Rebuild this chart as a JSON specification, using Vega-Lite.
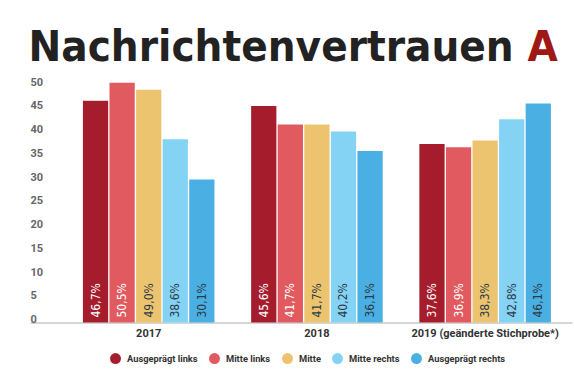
{
  "$schema": "https://vega.github.io/schema/vega-lite/v6.json",
  "width": 542,
  "height": 237.5,
  "autosize": "none",
  "padding": {"left": 30, "top": 85, "right": 2, "bottom": 47.5},
  "background": "white",
  "data": {
    "values": [
      {"jahr": "2017", "gruppe": "Ausgeprägt links", "wert": 46.7},
      {"jahr": "2017", "gruppe": "Mitte links", "wert": 50.5},
      {"jahr": "2017", "gruppe": "Mitte", "wert": 49.0},
      {"jahr": "2017", "gruppe": "Mitte rechts", "wert": 38.6},
      {"jahr": "2017", "gruppe": "Ausgeprägt rechts", "wert": 30.1},
      {"jahr": "2018", "gruppe": "Ausgeprägt links", "wert": 45.6},
      {"jahr": "2018", "gruppe": "Mitte links", "wert": 41.7},
      {"jahr": "2018", "gruppe": "Mitte", "wert": 41.7},
      {"jahr": "2018", "gruppe": "Mitte rechts", "wert": 40.2},
      {"jahr": "2018", "gruppe": "Ausgeprägt rechts", "wert": 36.1},
      {"jahr": "2019 (geänderte Stichprobe*)", "gruppe": "Ausgeprägt links", "wert": 37.6},
      {"jahr": "2019 (geänderte Stichprobe*)", "gruppe": "Mitte links", "wert": 36.9},
      {"jahr": "2019 (geänderte Stichprobe*)", "gruppe": "Mitte", "wert": 38.3},
      {"jahr": "2019 (geänderte Stichprobe*)", "gruppe": "Mitte rechts", "wert": 42.8},
      {"jahr": "2019 (geänderte Stichprobe*)", "gruppe": "Ausgeprägt rechts", "wert": 46.1}
    ]
  },
  "transform": [
    {"calculate": "replace(format(datum.wert, '.1f'), '.', ',') + '%'", "as": "label"}
  ],
  "encoding": {
    "x": {
      "field": "jahr",
      "type": "nominal",
      "sort": null,
      "scale": {"paddingInner": 0.218, "paddingOuter": 0.22, "align": 0.715},
      "axis": {
        "title": "Nachrichtenvertrauen",
        "titleAngle": 0,
        "titleX": -2,
        "titleY": -262.5,
        "titleAlign": "left",
        "titleBaseline": "alphabetic",
        "titleFont": "DejaVu Sans Condensed, DejaVu Sans",
        "titleFontSize": 43.5,
        "titleFontWeight": "bold",
        "titleColor": "#222222",
        "labelAngle": 0,
        "ticks": false,
        "domainColor": "#c8c8c8",
        "domainWidth": 1.5,
        "labelFont": "Roboto",
        "labelFontSize": 11,
        "labelFontWeight": "bold",
        "labelColor": "#333333",
        "labelPadding": 5
      }
    },
    "xOffset": {
      "field": "gruppe",
      "type": "nominal",
      "sort": ["Ausgeprägt links", "Mitte links", "Mitte", "Mitte rechts", "Ausgeprägt rechts"],
      "scale": {"paddingInner": 0.05}
    },
    "y": {
      "field": "wert",
      "type": "quantitative",
      "scale": {"domain": [0, 50], "nice": false},
      "axis": {
        "title": "A",
        "titleAngle": 0,
        "titleX": 497,
        "titleY": -25,
        "titleAlign": "left",
        "titleBaseline": "alphabetic",
        "titleFont": "DejaVu Sans Condensed, DejaVu Sans",
        "titleFontSize": 43.5,
        "titleFontWeight": "bold",
        "titleColor": "#a01816",
        "values": [0, 5, 10, 15, 20, 25, 30, 35, 40, 45, 50],
        "domain": false,
        "ticks": false,
        "grid": false,
        "labelAlign": "left",
        "labelBaseline": "alphabetic",
        "labelPadding": 0,
        "labelFont": "Roboto",
        "labelFontSize": 11,
        "labelFontWeight": "bold",
        "labelColor": "#666666"
      }
    }
  },
  "layer": [
    {
      "mark": {"type": "bar"},
      "encoding": {
        "color": {
          "field": "gruppe",
          "type": "nominal",
          "sort": ["Ausgeprägt links", "Mitte links", "Mitte", "Mitte rechts", "Ausgeprägt rechts"],
          "scale": {
            "domain": ["Ausgeprägt links", "Mitte links", "Mitte", "Mitte rechts", "Ausgeprägt rechts"],
            "range": ["#a51d2d", "#e05a5f", "#ecc46f", "#84d3f5", "#4aafe2"]
          },
          "legend": {
            "title": null,
            "orient": "none",
            "legendX": 80,
            "legendY": 268,
            "direction": "horizontal",
            "symbolType": "circle",
            "symbolSize": 120,
            "symbolStrokeWidth": 0,
            "symbolOpacity": 1,
            "labelFont": "Roboto",
            "labelFontSize": 9.3,
            "labelFontWeight": "bold",
            "labelColor": "#333333",
            "labelOffset": 6,
            "columnPadding": 11
          }
        }
      }
    },
    {
      "mark": {
        "type": "text",
        "angle": 270,
        "align": "left",
        "baseline": "middle",
        "dx": 5,
        "font": "DejaVu Sans Condensed, Roboto",
        "fontSize": 12
      },
      "encoding": {
        "y": {"datum": 0, "type": "quantitative"},
        "text": {"field": "label"},
        "color": {
          "condition": {"test": "datum.gruppe === 'Ausgeprägt links' || datum.gruppe === 'Mitte links'", "value": "white"},
          "value": "#2e3a46"
        }
      }
    }
  ],
  "config": {
    "view": {"stroke": null}
  }
}
